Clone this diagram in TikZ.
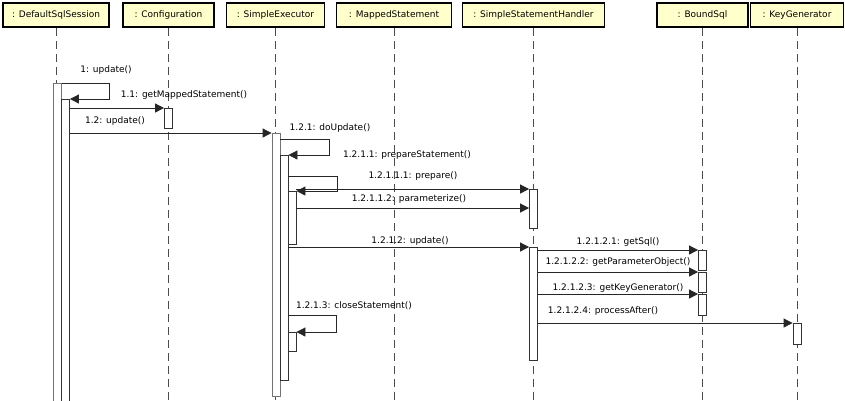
\documentclass[tikz,border=0pt]{standalone}
\usepackage{fontspec}
\setmainfont{DejaVu Sans}
\usetikzlibrary{positioning}
\usetikzlibrary{arrows.meta}
\definecolor{headfill}{HTML}{FFFFCC}
\tikzset{
    head/.style = {rectangle,draw,line width=1.5pt,fill=headfill,minimum height=24pt,inner sep=0pt,font=\fontsize{9}{10}\selectfont},
    lifeline/.style = {draw=black!70,dash pattern=on 8pt off 5pt,line width=0.8pt},
    bar/.style = {rectangle,draw=black!80,fill=white,line width=0.8pt,minimum width=8pt,inner sep=0pt,anchor=north},
    msg/.style = {draw=black!85,line width=0.8pt,-{Triangle[length=9pt,width=9pt]}},
    lbl/.style = {inner sep=0pt,font=\fontsize{9}{10}\selectfont}}
\begin{document}
\begin{tikzpicture}[x=1pt,y=-1pt]
    \useasboundingbox (0,0) rectangle (845,400);
    % objects
    \node[head,minimum width=106pt] (sess) at (56,15) {: DefaultSqlSession};
    \node[head,minimum width=91pt] (conf) at (168.5,15) {: Configuration};
    \node[head,minimum width=98pt] (exec) at (275.5,15) {: SimpleExecutor};
    \node[head,minimum width=115pt] (mapped) at (394,15) {: MappedStatement};
    \node[head,minimum width=142pt] (handler) at (533.5,15) {: SimpleStatementHandler};
    \node[head,minimum width=91pt] (bound) at (702.5,15) {: BoundSql};
    \node[head,minimum width=93pt] (keygen) at (797,15) {: KeyGenerator};
    \foreach \n in {sess,conf,exec,mapped,handler,bound,keygen}
        \draw[lifeline] (\n.south) -- (\n.south |- 0,400);
    % activations
    \node[bar,minimum height=320pt,draw=black!55] (s1) at (57.5,83) {};
    \node[bar,minimum height=304pt] (s2) at (65.5,99) {};
    \node[bar,minimum height=20pt] (c1) at (168.5,108) {};
    \node[bar,minimum height=263pt,draw=black!55] (e1) at (276,133) {};
    \node[bar,minimum height=225pt] (e2) at (284,155) {};
    \node[bar,minimum height=53pt] (e3) at (292,191) {};
    \node[bar,minimum height=19pt] (e4) at (292,332) {};
    \node[bar,minimum height=39pt] (h1) at (533.5,189) {};
    \node[bar,minimum height=113pt] (h2) at (533.5,247) {};
    \node[bar,minimum height=20pt] (b1) at (702.5,250) {};
    \node[bar,minimum height=20pt] (b2) at (702.5,272) {};
    \node[bar,minimum height=21pt] (b3) at (702.5,294) {};
    \node[bar,minimum height=21pt] (k1) at (797,323) {};
    \coordinate (param) at ([yshift=-19pt]h1.north west);
    % messages
    \draw[msg] (s1.north east) -- ++(47.5,0) |- (s2.north east);
    \draw[msg] (s2.east |- c1.north) -- (c1.north west);
    \draw[msg] (s2.east |- e1.north) -- (e1.north west);
    \draw[msg] ([yshift=-6pt]e1.north east) -- ++(49,0) |- (e2.north east);
    \draw[msg] ([yshift=-21pt]e2.north east) -- ++(49,0) |- (e3.north east);
    \draw[msg] (e3.east |- h1.north) -- (h1.north west);
    \draw[msg] (e3.east |- param) -- (param);
    \draw[msg] (e2.east |- h2.north) -- (h2.north west);
    \draw[msg] (h2.east |- b1.north) -- (b1.north west);
    \draw[msg] (h2.east |- b2.north) -- (b2.north west);
    \draw[msg] (h2.east |- b3.north) -- (b3.north west);
    \draw[msg] (h2.east |- k1.north) -- (k1.north west);
    \draw[msg] ([yshift=17pt]e4.north west) -- ++(49,0) |- (e4.north east);
    % labels
    \node[lbl] (t1) at (106,70) {1: update()};
    \node[lbl] (t11) at (184,95) {1.1: getMappedStatement()};
    \node[lbl] (t12) at (115,121) {1.2: update()};
    \node[lbl] (t121) at (330,128) {1.2.1: doUpdate()};
    \node[lbl] (t1211) at (407,155) {1.2.1.1: prepareStatement()};
    \node[lbl] (t12111) at (413,176) {1.2.1.1.1: prepare()};
    \node[lbl] (t12112) at (409,199) {1.2.1.1.2: parameterize()};
    \node[lbl] (t1212) at (410,241) {1.2.1.2: update()};
    \node[lbl] (t12121) at (618,242) {1.2.1.2.1: getSql()};
    \node[lbl] (t12122) at (618,262) {1.2.1.2.2: getParameterObject()};
    \node[lbl] (t12123) at (618,288) {1.2.1.2.3: getKeyGenerator()};
    \node[lbl] (t12124) at (603,311) {1.2.1.2.4: processAfter()};
    \node[lbl] (t1213) at (354,306) {1.2.1.3: closeStatement()};
\end{tikzpicture}
\end{document}
